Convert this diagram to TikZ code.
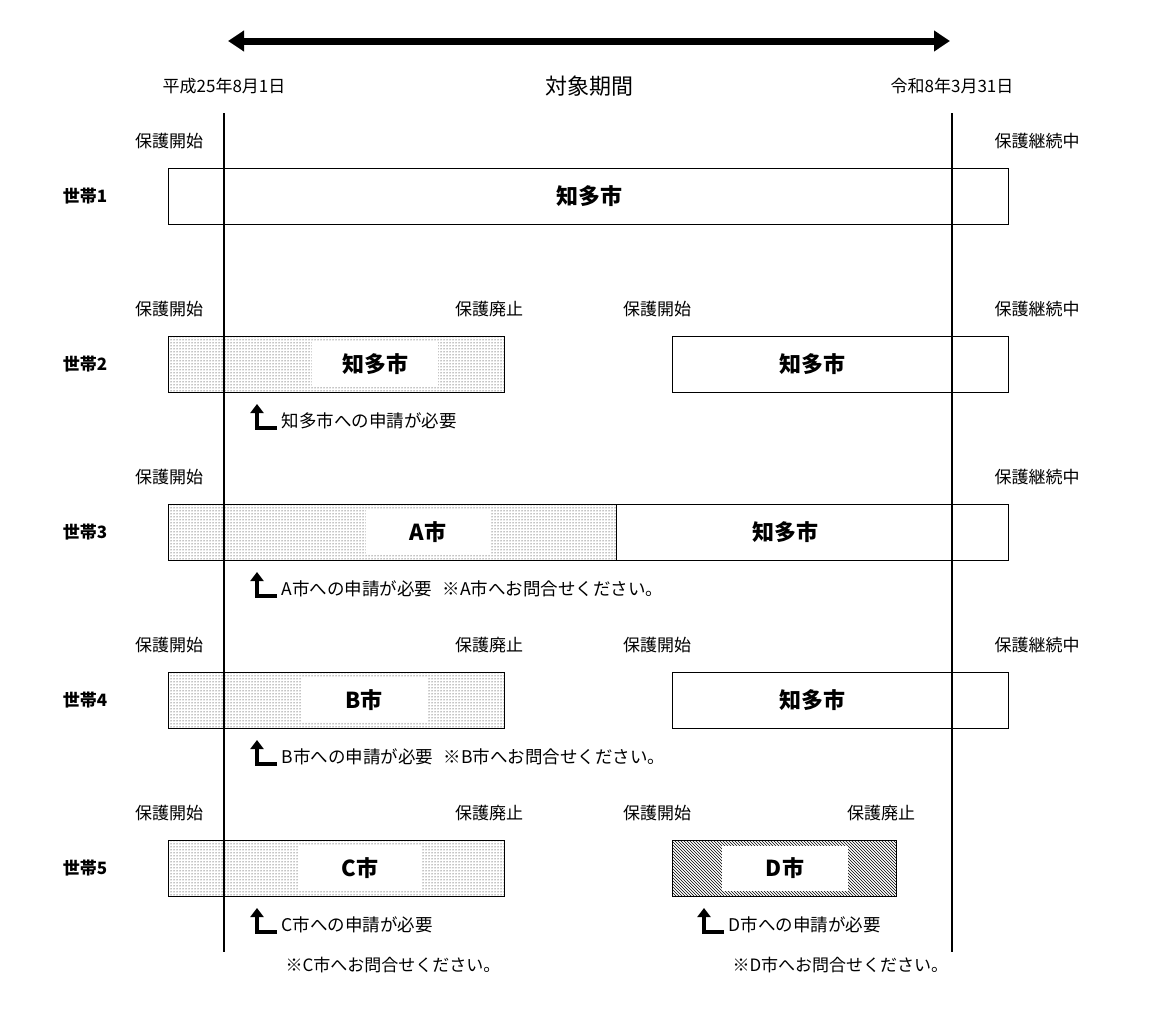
\documentclass[tikz,border=0pt]{standalone}
\usepackage{fontspec}
\setmainfont{Noto Sans CJK JP}
\usetikzlibrary{arrows.meta,patterns}
\tikzset{
  term/.style={font=\fontsize{17}{19}\selectfont},
  city/.style={font=\fontsize{22}{24}\selectfont\bfseries,fill=white,inner xsep=30pt,inner ysep=12pt},
  note/.style={font=\fontsize{17.5}{19}\selectfont,anchor=west},
  hh/.style={font=\fontsize{17}{19}\selectfont\bfseries},
  bar/.style={draw,line width=0.8pt},
  applyarrow/.style={line width=4pt,-{Triangle[length=9pt,width=13pt]}}
}
\newcommand{\applymark}[2]{\draw[applyarrow] (#1+20,#2+4) -- (#1,#2+4) -- (#1,#2-20);}
\begin{document}
\begin{tikzpicture}[x=1pt,y=-1pt]
  \useasboundingbox[fill=white] (0,0) rectangle (1152,1009);

  % Period arrow
  \draw[line width=7pt,{Triangle[length=16pt,width=20pt]}-{Triangle[length=16pt,width=20pt]}] (228,41) -- (950,41);
  \node[term] (start) at (224,86) {平成25年8月1日};
  \node[font=\fontsize{22}{24}\selectfont] (period) at (589,86) {対象期間};
  \node[term] (end) at (952,86) {令和8年3月31日};

  % Household 1
  \node[hh] (h1) at (85,196) {世帯1};
  \node[term] at (169,141) {保護開始};
  \node[term] at (1037,141) {保護継続中};
  \draw[bar] (168,168) rectangle (1008,224);
  \node[city,fill=none] (c1) at (589,196) {知多市};

  % Household 2
  \node[hh] (h2) at (85,364) {世帯2};
  \node[term] at (169,309) {保護開始};
  \node[term] at (489,309) {保護廃止};
  \node[term] at (657,309) {保護開始};
  \node[term] at (1037,309) {保護継続中};
  \draw[bar,pattern=dots] (168,336) rectangle (504,392);
  \node[city] (c2a) at (375,364) {知多市};
  \draw[bar] (672,336) rectangle (1008,392);
  \node[city,fill=none] (c2b) at (812,364) {知多市};
  \applymark{257}{424}
  \node[note] at (278,421) {知多市への申請が必要};

  % Household 3
  \node[hh] (h3) at (85,532) {世帯3};
  \node[term] at (169,477) {保護開始};
  \node[term] at (1037,477) {保護継続中};
  \draw[bar,pattern=dots] (168,504) rectangle (616,560);
  \draw[bar] (616,504) rectangle (1008,560);
  \node[city,inner xsep=44pt] (c3a) at (428,532) {A市};
  \node[city,fill=none] (c3b) at (785,532) {知多市};
  \applymark{257}{592}
  \node[note] at (278,589) {A市への申請が必要\hspace{0.6em}※A市へお問合せください。};

  % Household 4
  \node[hh] (h4) at (85,700) {世帯4};
  \node[term] at (169,645) {保護開始};
  \node[term] at (489,645) {保護廃止};
  \node[term] at (657,645) {保護開始};
  \node[term] at (1037,645) {保護継続中};
  \draw[bar,pattern=dots] (168,672) rectangle (504,728);
  \node[city,inner xsep=44pt] (c4a) at (364,700) {B市};
  \draw[bar] (672,672) rectangle (1008,728);
  \node[city,fill=none] (c4b) at (812,700) {知多市};
  \applymark{257}{760}
  \node[note] at (278,757) {B市への申請が必要\hspace{0.6em}※B市へお問合せください。};

  % Household 5
  \node[hh] (h5) at (85,868) {世帯5};
  \node[term] at (169,813) {保護開始};
  \node[term] at (489,813) {保護廃止};
  \node[term] at (657,813) {保護開始};
  \node[term] at (881,813) {保護廃止};
  \draw[bar,pattern=dots] (168,840) rectangle (504,896);
  \node[city,inner xsep=44pt] (c5a) at (360,868) {C市};
  \draw[bar,pattern=north west lines] (672,840) rectangle (896,896);
  \node[city,inner xsep=44pt] (c5b) at (785,868) {D市};
  \applymark{257}{928}
  \node[note] at (278,925) {C市への申請が必要};
  \node[term,anchor=west] at (282,965) {※C市へお問合せください。};
  \applymark{704}{928}
  \node[note] at (725,925) {D市への申請が必要};
  \node[term,anchor=west] at (729,965) {※D市へお問合せください。};

  % Period boundaries
  \draw[line width=2.5pt] (224,113) -- (224,952);
  \draw[line width=2.5pt] (952,113) -- (952,952);
\end{tikzpicture}
\end{document}
